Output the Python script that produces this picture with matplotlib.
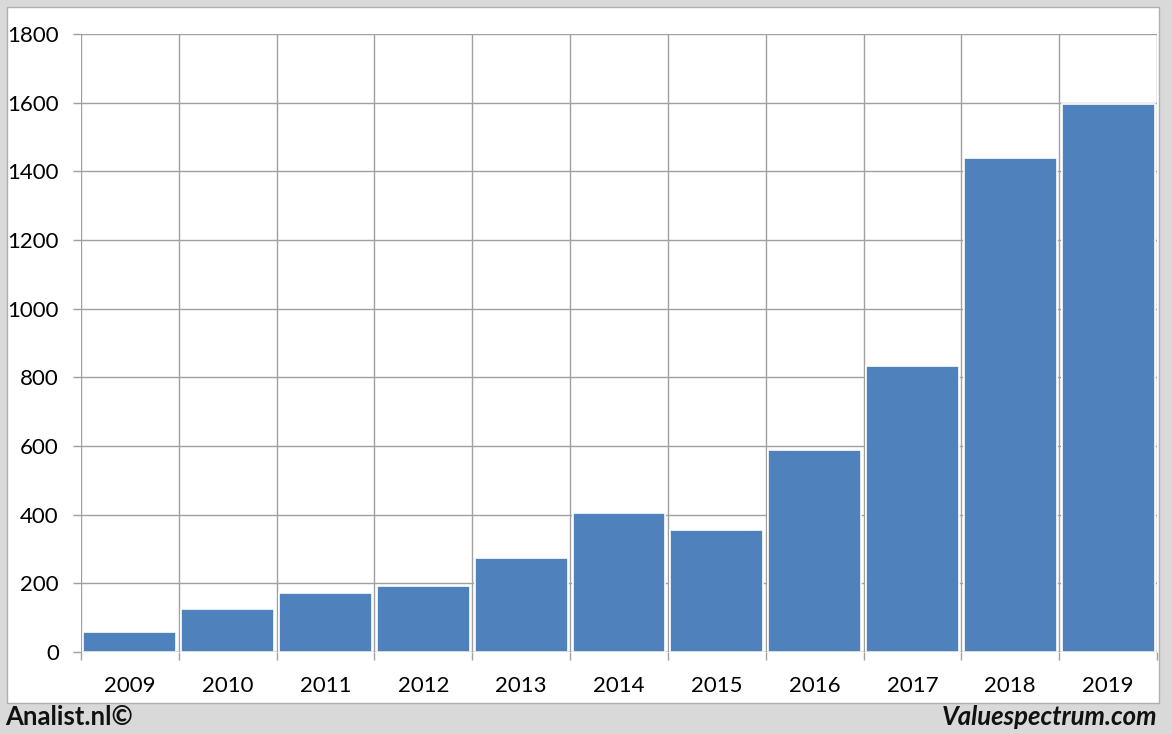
import numpy as np
import matplotlib.pyplot as plt
from matplotlib.patches import Rectangle

years = ['2009', '2010', '2011', '2012', '2013', '2014', '2015', '2016', '2017', '2018', '2019']
values = [58, 125, 172, 192, 274, 405, 355, 588, 833, 1439, 1596]

plt.rcParams['font.family'] = ['Lato', 'DejaVu Sans']

fig = plt.figure(figsize=(11.72, 7.34), dpi=100)
fig.patch.set_facecolor('#d9d9d9')

# white panel behind the chart
fig.patches.append(Rectangle((7 / 1172, 1 - 703 / 734), 1152 / 1172, 696 / 734,
                             transform=fig.transFigure, facecolor='white',
                             edgecolor='#b0b0b0', linewidth=1, zorder=-10))

ax = fig.add_axes([81 / 1172, 1 - 652 / 734, 1076 / 1172, 618 / 734])
ax.set_facecolor('none')

x = np.arange(len(years))
ax.bar(x, values, width=0.95, color='#4f81bd', edgecolor='white', linewidth=1.2, zorder=2)

ax.set_xlim(-0.5, len(years) - 0.5)
ax.set_ylim(0, 1800)
ax.set_yticks(np.arange(0, 1801, 200))

grid_c = '#a0a0a0'
for b in np.arange(-0.5, len(years), 1.0):
    ax.axvline(b, color=grid_c, linewidth=1, zorder=1)
ax.yaxis.grid(True, color=grid_c, linewidth=1, zorder=1)
ax.set_axisbelow(True)

ax.set_xticks(x)
ax.set_xticklabels(years)
ax.set_xticks(np.arange(-0.5, len(years), 1.0), minor=True)
ax.tick_params(axis='x', which='major', length=0, labelsize=16, pad=17)
ax.tick_params(axis='x', which='minor', length=6, color=grid_c, width=1)
ax.tick_params(axis='y', length=6, color=grid_c, width=1, labelsize=16, pad=10)

for s in ax.spines.values():
    s.set_visible(False)
ax.axhline(0, color=grid_c, linewidth=1, zorder=3)

fig.text(5 / 1172, 1 - 717 / 734, 'Analist.nl©', fontsize=18.5, fontweight='bold',
         va='center', ha='left', color='#111111')
fig.text(1157 / 1172, 1 - 717 / 734, 'Valuespectrum.com', fontsize=18.5, fontweight='bold',
         style='italic', va='center', ha='right', color='#111111')

fig.savefig('out.png', dpi=100, facecolor=fig.get_facecolor())
